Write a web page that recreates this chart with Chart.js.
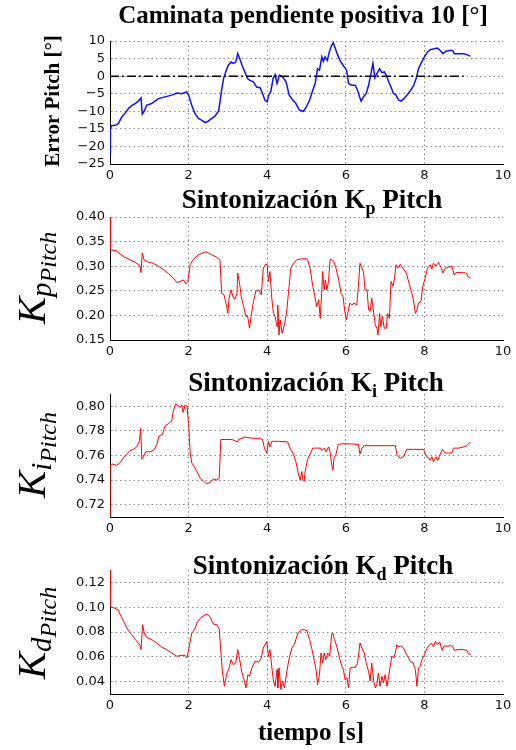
<!DOCTYPE html>
<html>
<head>
<meta charset="utf-8">
<script src="https://cdn.jsdelivr.net/npm/chart.js@4.4.1/dist/chart.umd.min.js"></script>
<style>
  body { margin: 0; background: #fff; }
  #wrap { position: relative; width: 516px; height: 750px; }
  canvas { position: absolute; left: 0; }
</style>
</head>
<body>
<div id="wrap">
  <canvas id="c1" width="516" height="190" style="top:0px"></canvas>
  <canvas id="c2" width="516" height="180" style="top:190px"></canvas>
  <canvas id="c3" width="516" height="175" style="top:370px"></canvas>
  <canvas id="c4" width="516" height="205" style="top:545px"></canvas>
</div>
<script>
// time axis ticks (s)
const timeTicks = [0, 2, 4, 6, 8, 10];

// [t, value] pairs
const errorPitch = [[0,-22],[0.01,-15],[0.04,-14.1],[0.13,-14],[0.21,-13.5],[0.3,-11.6],[0.38,-10.6],[0.47,-9.2],[0.55,-8.4],[0.64,-7.8],[0.72,-7.1],[0.79,-6.2],[0.82,-10.8],[0.87,-10],[0.93,-8.3],[1.06,-7.8],[1.23,-6.4],[1.4,-5.9],[1.57,-5.4],[1.7,-4.8],[1.82,-5],[1.95,-4.5],[2.0,-5.4],[2.08,-8.3],[2.16,-10.6],[2.25,-12],[2.33,-12.5],[2.42,-13.2],[2.5,-12.8],[2.59,-12],[2.67,-11.4],[2.76,-10],[2.8,-7.3],[2.84,-4],[2.89,-0.7],[2.95,1.4],[3.01,3.1],[3.08,4],[3.14,3.6],[3.2,4],[3.25,6.4],[3.3,5],[3.36,3.1],[3.43,1.2],[3.5,-0.7],[3.56,-1.2],[3.65,-1.6],[3.73,-3.1],[3.82,-3.3],[3.88,-4.9],[3.94,-6.8],[4.0,-7.3],[4.04,-5.4],[4.09,-4.5],[4.15,-0.7],[4.2,0.4],[4.25,-2.1],[4.31,0.3],[4.39,-0.2],[4.48,-1.6],[4.56,-5.4],[4.65,-6.8],[4.73,-7.8],[4.82,-9.7],[4.92,-10],[5.0,-8.7],[5.08,-6.8],[5.16,-4],[5.22,-2.1],[5.28,2.1],[5.33,1.7],[5.39,5.5],[5.43,4.2],[5.47,5.5],[5.53,4.5],[5.58,6.9],[5.64,8.8],[5.68,9.5],[5.72,8.3],[5.78,6.4],[5.85,4.5],[5.93,3.1],[6.02,1.7],[6.07,-2.1],[6.15,-2.6],[6.24,-2.6],[6.3,-4],[6.35,-5.9],[6.39,-7.1],[6.45,-5.9],[6.52,-4.9],[6.58,-2.6],[6.64,0.7],[6.69,3.6],[6.74,-0.5],[6.79,0.7],[6.86,2.1],[6.92,1],[6.98,1.2],[7.03,0.3],[7.09,-1.6],[7.15,-3.1],[7.21,-4.9],[7.28,-5.4],[7.34,-6.8],[7.4,-7.1],[7.48,-6.4],[7.57,-5.2],[7.65,-4],[7.72,-2.8],[7.79,-0.7],[7.85,2.1],[7.93,4],[8.0,5.5],[8.08,6.9],[8.16,7.6],[8.25,7.8],[8.33,8],[8.4,7.3],[8.47,6.4],[8.55,7.1],[8.64,7.3],[8.72,7.3],[8.76,6.4],[8.86,6.4],[8.99,6.4],[9.07,6.2],[9.17,5.6]];
const zeroLine = [[0,0],[9.0,0]];

const kpPitch = [[0,0.40],[0.005,0.333],[0.04,0.333],[0.17,0.331],[0.25,0.325],[0.38,0.318],[0.51,0.313],[0.64,0.308],[0.76,0.301],[0.79,0.287],[0.82,0.327],[0.87,0.312],[0.98,0.308],[1.1,0.306],[1.23,0.3],[1.36,0.293],[1.49,0.285],[1.61,0.276],[1.7,0.267],[1.78,0.269],[1.87,0.272],[1.93,0.264],[1.98,0.269],[2.04,0.303],[2.12,0.314],[2.25,0.323],[2.38,0.328],[2.46,0.329],[2.59,0.323],[2.72,0.318],[2.8,0.312],[2.84,0.245],[2.9,0.242],[2.95,0.225],[3.0,0.204],[3.03,0.235],[3.08,0.252],[3.14,0.235],[3.18,0.233],[3.23,0.245],[3.25,0.286],[3.29,0.269],[3.34,0.238],[3.4,0.218],[3.46,0.198],[3.5,0.199],[3.55,0.174],[3.59,0.198],[3.65,0.228],[3.71,0.249],[3.78,0.252],[3.85,0.242],[3.9,0.296],[3.96,0.304],[4.0,0.303],[4.03,0.269],[4.07,0.289],[4.12,0.232],[4.16,0.204],[4.2,0.198],[4.25,0.177],[4.27,0.221],[4.3,0.16],[4.33,0.191],[4.38,0.164],[4.44,0.181],[4.5,0.211],[4.54,0.245],[4.6,0.296],[4.67,0.306],[4.75,0.313],[4.88,0.315],[5.0,0.315],[5.03,0.313],[5.09,0.296],[5.16,0.259],[5.22,0.235],[5.26,0.218],[5.31,0.232],[5.35,0.194],[5.39,0.252],[5.41,0.289],[5.45,0.252],[5.48,0.272],[5.52,0.252],[5.56,0.269],[5.6,0.313],[5.64,0.314],[5.69,0.31],[5.75,0.296],[5.82,0.272],[5.88,0.245],[5.93,0.238],[5.97,0.211],[6.01,0.191],[6.05,0.204],[6.1,0.225],[6.15,0.221],[6.21,0.225],[6.28,0.221],[6.32,0.259],[6.36,0.306],[6.41,0.296],[6.45,0.289],[6.49,0.252],[6.54,0.252],[6.58,0.211],[6.62,0.208],[6.66,0.235],[6.7,0.211],[6.75,0.181],[6.79,0.174],[6.82,0.16],[6.86,0.204],[6.89,0.177],[6.93,0.198],[6.98,0.174],[7.03,0.174],[7.06,0.204],[7.11,0.194],[7.15,0.269],[7.2,0.259],[7.24,0.276],[7.28,0.303],[7.32,0.296],[7.39,0.304],[7.45,0.296],[7.54,0.286],[7.62,0.262],[7.68,0.245],[7.72,0.232],[7.77,0.204],[7.81,0.211],[7.85,0.225],[7.91,0.228],[7.96,0.259],[8.02,0.276],[8.08,0.296],[8.15,0.303],[8.19,0.294],[8.23,0.306],[8.3,0.3],[8.36,0.308],[8.42,0.298],[8.47,0.286],[8.53,0.296],[8.62,0.298],[8.7,0.3],[8.76,0.282],[8.8,0.287],[8.96,0.287],[9.07,0.286],[9.12,0.277],[9.18,0.276]];

const kiPitch = [[0,0.709],[0.005,0.7525],[0.06,0.753],[0.17,0.752],[0.25,0.754],[0.34,0.758],[0.42,0.761],[0.51,0.764],[0.59,0.765],[0.68,0.767],[0.75,0.772],[0.78,0.782],[0.81,0.757],[0.85,0.759],[0.91,0.763],[1.02,0.763],[1.13,0.765],[1.19,0.769],[1.25,0.776],[1.33,0.777],[1.4,0.784],[1.49,0.786],[1.57,0.788],[1.61,0.796],[1.67,0.802],[1.72,0.801],[1.78,0.799],[1.83,0.801],[1.86,0.795],[1.91,0.801],[1.96,0.8],[2.0,0.786],[2.04,0.762],[2.08,0.754],[2.14,0.751],[2.21,0.747],[2.29,0.742],[2.38,0.739],[2.46,0.737],[2.55,0.738],[2.63,0.741],[2.72,0.74],[2.78,0.742],[2.82,0.773],[2.93,0.773],[3.1,0.773],[3.25,0.771],[3.27,0.773],[3.44,0.775],[3.61,0.774],[3.78,0.774],[3.88,0.773],[3.93,0.766],[3.99,0.762],[4.03,0.7715],[4.07,0.767],[4.12,0.7715],[4.29,0.7715],[4.52,0.771],[4.58,0.766],[4.67,0.761],[4.73,0.755],[4.8,0.744],[4.84,0.74],[4.88,0.747],[4.91,0.74],[4.94,0.739],[4.97,0.748],[5.03,0.757],[5.09,0.761],[5.16,0.766],[5.26,0.766],[5.36,0.766],[5.39,0.764],[5.45,0.766],[5.5,0.763],[5.56,0.767],[5.6,0.763],[5.63,0.755],[5.67,0.748],[5.7,0.758],[5.75,0.761],[5.81,0.769],[5.9,0.7695],[6.11,0.7695],[6.32,0.769],[6.36,0.761],[6.41,0.766],[6.47,0.768],[6.7,0.768],[7.04,0.768],[7.26,0.768],[7.3,0.761],[7.34,0.759],[7.39,0.758],[7.47,0.759],[7.55,0.765],[7.72,0.765],[7.98,0.765],[8.05,0.759],[8.11,0.758],[8.15,0.756],[8.19,0.759],[8.23,0.755],[8.3,0.759],[8.34,0.756],[8.4,0.761],[8.46,0.765],[8.53,0.762],[8.62,0.762],[8.7,0.762],[8.74,0.766],[8.87,0.766],[9.0,0.767],[9.08,0.768],[9.17,0.771]];

const kdPitch = [[0,0.13],[0.005,0.1007],[0.04,0.1],[0.11,0.0993],[0.2,0.098],[0.28,0.0926],[0.37,0.0872],[0.45,0.0819],[0.55,0.0779],[0.65,0.0738],[0.76,0.0693],[0.79,0.0658],[0.83,0.0859],[0.87,0.0792],[0.93,0.0757],[1.06,0.0738],[1.19,0.0711],[1.32,0.0677],[1.44,0.0658],[1.57,0.0631],[1.7,0.0604],[1.82,0.0612],[1.91,0.0612],[1.96,0.0591],[2.01,0.0671],[2.08,0.0792],[2.15,0.0819],[2.23,0.0886],[2.32,0.0918],[2.42,0.094],[2.49,0.094],[2.55,0.0918],[2.63,0.0864],[2.72,0.0859],[2.78,0.0819],[2.83,0.0604],[2.86,0.0483],[2.91,0.0362],[2.97,0.0462],[3.03,0.051],[3.08,0.0577],[3.14,0.0537],[3.2,0.055],[3.25,0.0658],[3.3,0.0577],[3.35,0.0483],[3.42,0.0403],[3.46,0.0349],[3.51,0.0456],[3.55,0.0443],[3.61,0.051],[3.69,0.0564],[3.78,0.0556],[3.85,0.0591],[3.9,0.0671],[3.99,0.0725],[4.03,0.0604],[4.07,0.0658],[4.12,0.051],[4.16,0.0403],[4.2,0.0362],[4.25,0.0497],[4.27,0.0349],[4.3,0.051],[4.35,0.0336],[4.39,0.0403],[4.44,0.0349],[4.5,0.0483],[4.56,0.0591],[4.63,0.0671],[4.69,0.0698],[4.78,0.0792],[4.88,0.0819],[4.94,0.0819],[5.01,0.0811],[5.08,0.0738],[5.14,0.0658],[5.2,0.0564],[5.25,0.0483],[5.28,0.0376],[5.33,0.0456],[5.37,0.0631],[5.41,0.055],[5.45,0.0631],[5.49,0.0577],[5.54,0.0631],[5.59,0.0604],[5.64,0.0779],[5.67,0.0792],[5.71,0.0738],[5.77,0.0685],[5.84,0.0591],[5.9,0.0523],[5.94,0.0497],[5.98,0.0416],[6.03,0.043],[6.07,0.0349],[6.11,0.051],[6.18,0.0516],[6.24,0.0516],[6.3,0.055],[6.33,0.0631],[6.36,0.0711],[6.41,0.0671],[6.47,0.0631],[6.52,0.055],[6.58,0.0483],[6.62,0.0403],[6.66,0.055],[6.71,0.0403],[6.75,0.0349],[6.79,0.0376],[6.83,0.047],[6.87,0.0362],[6.92,0.0443],[6.96,0.0389],[7.0,0.0456],[7.05,0.0362],[7.09,0.0443],[7.13,0.0523],[7.17,0.0604],[7.22,0.0591],[7.26,0.0631],[7.3,0.0698],[7.34,0.0679],[7.4,0.0689],[7.47,0.067],[7.55,0.0617],[7.64,0.0564],[7.71,0.055],[7.77,0.0497],[7.81,0.0362],[7.85,0.051],[7.89,0.0523],[7.94,0.0577],[8.0,0.0617],[8.07,0.0671],[8.13,0.0698],[8.19,0.0706],[8.23,0.068],[8.28,0.0725],[8.34,0.0698],[8.39,0.0719],[8.45,0.0652],[8.5,0.0686],[8.57,0.0686],[8.66,0.069],[8.72,0.0686],[8.76,0.0652],[8.87,0.066],[8.99,0.0657],[9.08,0.0652],[9.12,0.0625],[9.18,0.0617]];

// y tick labels per panel
const pitchTicks = ['-25', '-20', '-15', '-10', '-5', '0', '5', '10'];
const kpTicks = ['0.15', '0.20', '0.25', '0.30', '0.35', '0.40'];
const kiTicks = ['0.72', '0.74', '0.76', '0.78', '0.80'];
const kdTicks = ['0.04', '0.06', '0.08', '0.10', '0.12'];

const SERIF = '"Liberation Serif", "Times New Roman", serif';
const SANS = '"DejaVu Sans", sans-serif';

function toXY(pairs) {
    return pairs.map(p => ({ x: p[0], y: p[1] }));
}

// draw a row of text pieces (for sub-scripts), centred on x,y
function drawParts(ctx, parts, x, y, rotate) {
    ctx.save();
    ctx.translate(x, y);
    if (rotate) ctx.rotate(-Math.PI / 2);
    ctx.fillStyle = '#000';
    ctx.textBaseline = 'alphabetic';
    ctx.textAlign = 'left';
    let total = 0;
    parts.forEach(p => { ctx.font = p.font; total += ctx.measureText(p.text).width; });
    let cx = -total / 2;
    parts.forEach(p => {
        ctx.font = p.font;
        ctx.fillText(p.text, cx, p.dy || 0);
        cx += ctx.measureText(p.text).width;
    });
    ctx.restore();
}

const labelPlugin = {
    id: 'labels',
    afterDraw(chart, args, opts) {
        const ctx = chart.ctx;
        if (opts.title) drawParts(ctx, opts.title, opts.titleX, opts.titleY, false);
        if (opts.ylabel) drawParts(ctx, opts.ylabel, opts.ylabelX, opts.ylabelY, true);
        if (opts.xlabel) drawParts(ctx, opts.xlabel, opts.xlabelX, opts.xlabelY, false);
    }
};

function kParts(sub) {
    return [
        { text: 'K', font: 'italic 41px ' + SERIF },
        { text: sub, font: 'italic 29px ' + SERIF, dy: 6 },
        { text: 'Pitch', font: 'italic 24px ' + SERIF, dy: 11 }
    ];
}

function titleParts(sub) {
    return [
        { text: 'Sintonización K', font: 'bold 27px ' + SERIF },
        { text: sub, font: 'bold 18px ' + SERIF, dy: 6 },
        { text: ' Pitch', font: 'bold 27px ' + SERIF }
    ];
}

function makePanel(id, cfg) {
    const canvas = document.getElementById(id);
    const H = canvas.height;
    const datasets = cfg.series.map(s => ({
        data: toXY(s.data),
        borderColor: s.color,
        borderWidth: s.width,
        borderDash: s.dash || [],
        pointRadius: 0,
        tension: 0,
        fill: false
    }));
    new Chart(canvas.getContext('2d'), {
        type: 'line',
        data: { datasets: datasets },
        plugins: [labelPlugin],
        options: {
            responsive: false,
            animation: false,
            layout: { padding: { left: 0, right: 13, top: cfg.top, bottom: 0 } },
            plugins: {
                legend: { display: false },
                tooltip: { enabled: false },
                labels: cfg.labels
            },
            scales: {
                x: {
                    type: 'linear',
                    min: 0,
                    max: 10,
                    afterFit: s => { s.height = H - cfg.bottom; },
                    afterBuildTicks: s => { s.ticks = timeTicks.map(v => ({ value: v })); },
                    ticks: {
                        autoSkip: false,
                        padding: 4,
                        color: '#111',
                        font: { family: SANS, size: 13 },
                        maxRotation: 0,
                        callback: v => String(v)
                    },
                    grid: {
                        drawTicks: false,
                        color: c => (c.tick && c.tick.value === 10) ? 'rgba(0,0,0,0)' : '#8a8a8a',
                        lineWidth: 1
                    },
                    border: { color: '#000', width: 1, dash: [1.5, 3] }
                },
                y: {
                    min: cfg.min,
                    max: cfg.max,
                    afterFit: s => { s.width = 110; },
                    afterBuildTicks: s => { s.ticks = cfg.ticks.map(t => ({ value: parseFloat(t) })); },
                    ticks: {
                        autoSkip: false,
                        padding: 5,
                        color: '#111',
                        font: { family: SANS, size: 13 },
                        callback: (v, i) => cfg.ticks[i].replace('-', '\u2212')
                    },
                    grid: { drawTicks: false, color: '#8a8a8a', lineWidth: 1 },
                    border: { color: '#000', width: 1, dash: [1.5, 3] }
                }
            }
        }
    });
}

// Panel 1: error pitch
makePanel('c1', {
    top: 41, bottom: 164, min: -25, max: 10, ticks: pitchTicks,
    series: [
        { data: zeroLine, color: '#000', width: 1.5, dash: [9, 3, 2, 3] },
        { data: errorPitch, color: '#1010ff', width: 1.5 }
    ],
    labels: {
        title: [{ text: 'Caminata pendiente positiva 10 [°]', font: 'bold 25px ' + SERIF }],
        titleX: 303, titleY: 23,
        ylabel: [{ text: 'Error Pitch [°]', font: 'bold 21px ' + SERIF }],
        ylabelX: 59, ylabelY: 101
    }
});

// Panel 2: Kp
makePanel('c2', {
    top: 27, bottom: 150, min: 0.15, max: 0.40, ticks: kpTicks,
    series: [{ data: kpPitch, color: '#ff0000', width: 1 }],
    labels: {
        title: titleParts('p'), titleX: 312, titleY: 18,
        ylabel: kParts('p'), ylabelX: 45, ylabelY: 88
    }
});

// Panel 3: Ki
makePanel('c3', {
    top: 24, bottom: 147, min: 0.71, max: 0.81, ticks: kiTicks,
    series: [{ data: kiPitch, color: '#ff0000', width: 1 }],
    labels: {
        title: titleParts('i'), titleX: 316, titleY: 21,
        ylabel: kParts('i'), ylabelX: 45, ylabelY: 85
    }
});

// Panel 4: Kd
makePanel('c4', {
    top: 25, bottom: 149, min: 0.03, max: 0.13, ticks: kdTicks,
    series: [{ data: kdPitch, color: '#ff0000', width: 1 }],
    labels: {
        title: titleParts('d'), titleX: 323, titleY: 29,
        ylabel: kParts('d'), ylabelX: 45, ylabelY: 88,
        xlabel: [{ text: 'tiempo [s]', font: 'bold 25px ' + SERIF }],
        xlabelX: 311, xlabelY: 195
    }
});
</script>
</body>
</html>
